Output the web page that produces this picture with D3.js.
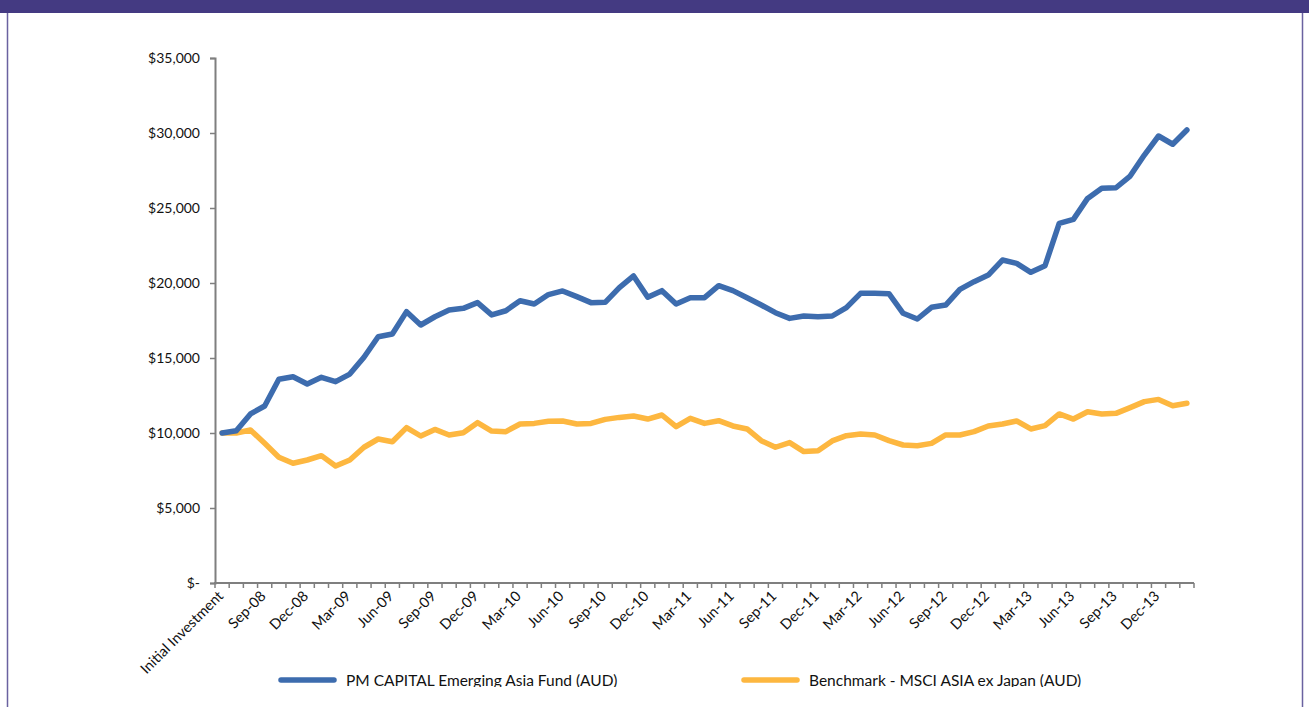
<!DOCTYPE html>
<html>
<head>
<meta charset="utf-8">
<script src="https://cdn.jsdelivr.net/npm/d3@7"></script>
<style>
  body { margin: 0; background: #fff; }
  svg { display: block; font-family: Lato, "Open Sans", sans-serif; }
</style>
</head>
<body>
<div id="chart"></div>
<script>
// categories: initial investment, then monthly Jul-08 .. Feb-14
var categories = ["Initial Investment",
  "Jul-08","Aug-08","Sep-08","Oct-08","Nov-08","Dec-08",
  "Jan-09","Feb-09","Mar-09","Apr-09","May-09","Jun-09","Jul-09","Aug-09","Sep-09","Oct-09","Nov-09","Dec-09",
  "Jan-10","Feb-10","Mar-10","Apr-10","May-10","Jun-10","Jul-10","Aug-10","Sep-10","Oct-10","Nov-10","Dec-10",
  "Jan-11","Feb-11","Mar-11","Apr-11","May-11","Jun-11","Jul-11","Aug-11","Sep-11","Oct-11","Nov-11","Dec-11",
  "Jan-12","Feb-12","Mar-12","Apr-12","May-12","Jun-12","Jul-12","Aug-12","Sep-12","Oct-12","Nov-12","Dec-12",
  "Jan-13","Feb-13","Mar-13","Apr-13","May-13","Jun-13","Jul-13","Aug-13","Sep-13","Oct-13","Nov-13","Dec-13",
  "Jan-14","Feb-14"];

var fundValues = [10000, 10150, 11270, 11800, 13580, 13750, 13270, 13710, 13420, 13930,
  15050, 16420, 16600, 18090, 17200, 17750, 18200, 18310, 18690, 17870,
  18150, 18820, 18600, 19230, 19470, 19090, 18690, 18710, 19690, 20470,
  19050, 19490, 18600, 19020, 19020, 19820, 19490, 19020, 18530, 18020,
  17640, 17800, 17750, 17800, 18360, 19310, 19310, 19290, 17980, 17600,
  18380, 18530, 19580, 20090, 20530, 21530, 21310, 20710, 21150, 23980,
  24240, 25640, 26310, 26350, 27130, 28530, 29800, 29250, 30200];

var benchValues = [10000, 10000, 10200, 9310, 8380, 7980, 8200, 8490, 7800, 8200,
  9050, 9600, 9420, 10360, 9800, 10240, 9870, 10020, 10690, 10130,
  10090, 10600, 10640, 10780, 10800, 10600, 10640, 10910, 11040, 11130,
  10930, 11200, 10420, 10980, 10640, 10820, 10470, 10270, 9490, 9050,
  9360, 8760, 8820, 9470, 9820, 9930, 9870, 9490, 9200, 9150,
  9310, 9870, 9870, 10090, 10470, 10600, 10800, 10270, 10490, 11270,
  10930, 11420, 11270, 11310, 11690, 12090, 12240, 11820, 11980];

var yTicks = [0, 5000, 10000, 15000, 20000, 25000, 30000, 35000];
var seriesNames = ["PM CAPITAL Emerging Asia Fund (AUD)", "Benchmark - MSCI ASIA ex Japan (AUD)"];
var seriesColors = ["#3d6cae", "#fdb740"];

var W = 1309, H = 707;
var svg = d3.select("#chart").append("svg")
  .attr("width", W).attr("height", H);

// frame: purple header band and side borders
svg.append("rect").attr("x", 0).attr("y", 0).attr("width", W).attr("height", 13).attr("fill", "#443a82");
svg.append("line").attr("x1", 7.5).attr("x2", 7.5).attr("y1", 13).attr("y2", H)
  .attr("stroke", "#6a62a0").attr("stroke-width", 1.5);
svg.append("line").attr("x1", 1302.5).attr("x2", 1302.5).attr("y1", 13).attr("y2", H)
  .attr("stroke", "#6a62a0").attr("stroke-width", 1.5);

var x = d3.scaleBand().domain(categories).range([215, 1194]).padding(0);
var y = d3.scaleLinear().domain([0, 35000]).range([583, 58]);
function cx(c) { return x(c) + x.bandwidth() / 2; }

var axisColor = "#7f7f7f";

// y axis
var yAxis = svg.append("g")
  .attr("transform", "translate(215,0)")
  .call(d3.axisLeft(y).tickValues(yTicks).tickSize(5).tickPadding(10)
    .tickFormat(function(d) { return d === 0 ? "$-" : "$" + d3.format(",")(d); }));
yAxis.select(".domain").attr("stroke", axisColor).attr("stroke-width", 2);
yAxis.selectAll(".tick line").attr("stroke", axisColor).attr("stroke-width", 1.5);
yAxis.selectAll(".tick text").attr("font-size", 14).attr("fill", "#111")
  .attr("font-family", "Lato, sans-serif");

// x axis, drawn by hand so the ticks sit on category boundaries
var xAxis = svg.append("g");
var bounds = categories.map(function(c) { return x(c); }).concat([x.range()[1]]);
xAxis.selectAll("line.tk").data(bounds).enter().append("line")
  .attr("class", "tk")
  .attr("x1", function(d) { return d; }).attr("x2", function(d) { return d; })
  .attr("y1", 583).attr("y2", 588)
  .attr("stroke", axisColor).attr("stroke-width", 1.5);
xAxis.append("line").attr("x1", 214).attr("x2", 1194).attr("y1", 583).attr("y2", 583)
  .attr("stroke", axisColor).attr("stroke-width", 2);
xAxis.selectAll("text").data(categories.filter(function(c, i) { return i % 3 === 0; }))
  .enter().append("text")
  .attr("transform", function(d) { return "translate(" + (cx(d) + 2) + ",597) rotate(-45)"; })
  .attr("text-anchor", "end")
  .attr("font-size", 14.5)
  .attr("fill", "#111")
  .text(function(d) { return d; });

// lines
var line = d3.line()
  .x(function(d, i) { return cx(categories[i]); })
  .y(function(d) { return y(d); });

[benchValues, fundValues].forEach(function(vals, k) {
  svg.append("path")
    .datum(vals)
    .attr("fill", "none")
    .attr("stroke", k === 0 ? seriesColors[1] : seriesColors[0])
    .attr("stroke-width", 5.5)
    .attr("stroke-linejoin", "round")
    .attr("stroke-linecap", "round")
    .attr("d", line);
});

// legend (bottom edge is cut off in the source)
svg.append("clipPath").attr("id", "legclip")
  .append("rect").attr("x", 0).attr("y", 600).attr("width", W).attr("height", 87);
var legend = svg.append("g").attr("clip-path", "url(#legclip)");
var legX = [281, 744];
seriesNames.forEach(function(name, i) {
  legend.append("line")
    .attr("x1", legX[i]).attr("x2", legX[i] + 53)
    .attr("y1", 680).attr("y2", 680)
    .attr("stroke", seriesColors[i]).attr("stroke-width", 5.5)
    .attr("stroke-linecap", "round");
  legend.append("text")
    .attr("x", legX[i] + 65).attr("y", 686)
    .attr("font-size", 15.5)
    .attr("fill", "#111")
    .text(name);
});
</script>
</body>
</html>
